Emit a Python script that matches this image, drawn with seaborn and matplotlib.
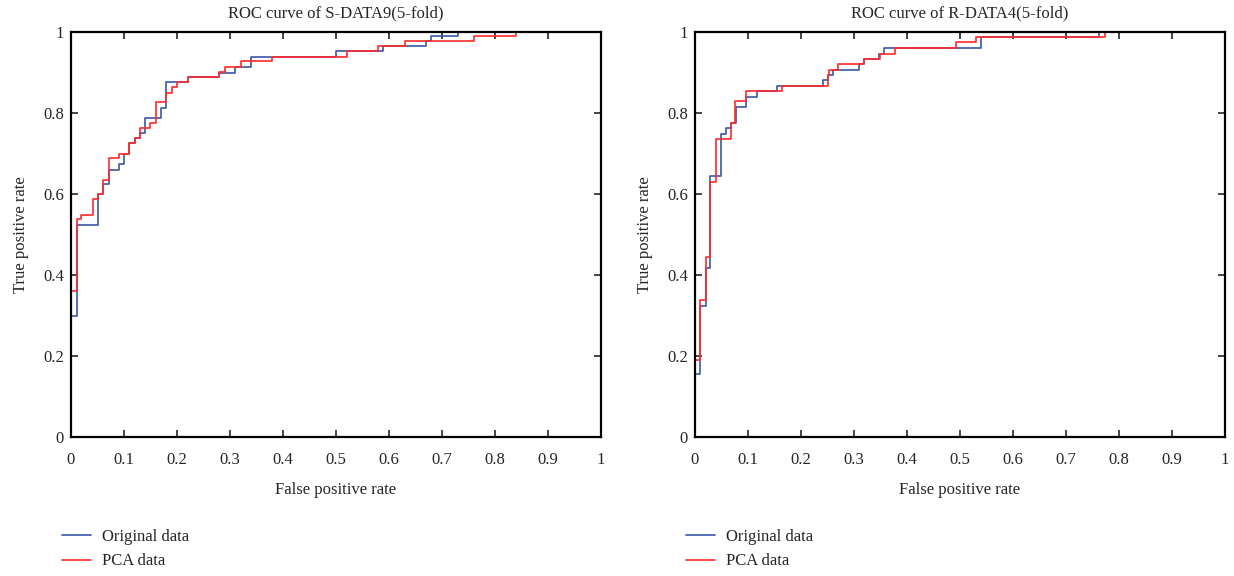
import numpy as np
import pandas as pd
import matplotlib
matplotlib.use('Agg')
import matplotlib.pyplot as plt
import seaborn as sns

# ROC step corners (fpr, tpr)
s_orig_fpr = [0, 0, 0.011, 0.051, 0.061, 0.071, 0.090, 0.100, 0.110, 0.120, 0.130, 0.140,
              0.170, 0.180, 0.220, 0.280, 0.310, 0.340, 0.500, 0.589, 0.670, 0.680, 0.730, 1]
s_orig_tpr = [0, 0.30, 0.525, 0.60, 0.626, 0.661, 0.675, 0.70, 0.727, 0.739, 0.752, 0.788,
              0.813, 0.878, 0.889, 0.90, 0.915, 0.94, 0.953, 0.965, 0.978, 0.99, 1.0, 1]
s_pca_fpr = [0, 0, 0.011, 0.019, 0.041, 0.051, 0.061, 0.071, 0.090, 0.110, 0.120, 0.130, 0.149,
             0.160, 0.180, 0.190, 0.200, 0.220, 0.280, 0.291, 0.320, 0.380, 0.520, 0.580,
             0.630, 0.760, 0.840, 1]
s_pca_tpr = [0, 0.36, 0.538, 0.549, 0.587, 0.60, 0.636, 0.689, 0.70, 0.727, 0.739, 0.763, 0.775,
             0.827, 0.851, 0.865, 0.878, 0.889, 0.901, 0.914, 0.928, 0.94, 0.953, 0.965,
             0.978, 0.99, 1.0, 1]

r_orig_fpr = [0, 0, 0.010, 0.020, 0.029, 0.049, 0.058, 0.068, 0.078, 0.097, 0.117, 0.155,
              0.241, 0.251, 0.260, 0.309, 0.319, 0.348, 0.357, 0.540, 0.763, 1]
r_orig_tpr = [0, 0.155, 0.324, 0.417, 0.644, 0.749, 0.763, 0.776, 0.816, 0.841, 0.855, 0.868,
              0.881, 0.895, 0.908, 0.921, 0.935, 0.947, 0.961, 0.988, 1.0, 1]
r_pca_fpr = [0, 0, 0.010, 0.020, 0.028, 0.040, 0.068, 0.076, 0.097, 0.165, 0.251, 0.253,
             0.270, 0.319, 0.350, 0.377, 0.493, 0.530, 0.773, 1]
r_pca_tpr = [0, 0.19, 0.338, 0.445, 0.629, 0.737, 0.776, 0.829, 0.855, 0.868, 0.895, 0.908,
             0.921, 0.935, 0.947, 0.961, 0.975, 0.988, 1.0, 1]

titles = ['ROC curve of S-DATA9(5-fold)', 'ROC curve of R-DATA4(5-fold)']
series_names = ['Original data', 'PCA data']
colors = ['#3a56a8', '#ff2a2a']

sns.set_style('ticks')
plt.rcParams['font.family'] = ['Liberation Serif', 'DejaVu Serif']

fig = plt.figure(figsize=(12.34, 5.76), dpi=100)
ax1 = fig.add_axes([0.0575, 0.241, 0.4295, 0.703])
ax2 = fig.add_axes([0.5632, 0.241, 0.4295, 0.703])

panels = [
    (ax1, [(s_orig_fpr, s_orig_tpr), (s_pca_fpr, s_pca_tpr)]),
    (ax2, [(r_orig_fpr, r_orig_tpr), (r_pca_fpr, r_pca_tpr)]),
]

for i, (ax, curves) in enumerate(panels):
    for (fx, ty), name, c in zip(curves, series_names, colors):
        d = pd.DataFrame({'fpr': fx, 'tpr': ty})
        sns.lineplot(data=d, x='fpr', y='tpr', ax=ax, estimator=None, sort=False,
                     drawstyle='steps-post', color=c, linewidth=1.2, label=name)
    ax.set_xlim(0, 1)
    ax.set_ylim(0, 1)
    ax.set_xticks(np.arange(0, 1.01, 0.1))
    ax.set_yticks(np.arange(0, 1.01, 0.2))
    ax.set_xticklabels(['0'] + ['%.1f' % v for v in np.arange(0.1, 0.95, 0.1)] + ['1'])
    ax.set_yticklabels(['0', '0.2', '0.4', '0.6', '0.8', '1'])
    ax.tick_params(direction='in', top=True, right=True, length=5, width=1.2,
                   labelsize=12)
    ax.tick_params(axis='x', pad=11)
    ax.tick_params(axis='y', pad=5)
    for sp in ax.spines.values():
        sp.set_linewidth(1.6)
        sp.set_color('black')
    ax.set_title(titles[i], fontsize=12, pad=11)
    ax.set_xlabel('False positive rate', fontsize=12, labelpad=10)
    ax.set_ylabel('True positive rate', fontsize=12, labelpad=10)
    ax.legend(loc='upper left', bbox_to_anchor=(-0.045, -0.19), frameon=False,
              fontsize=12, handlelength=1.75, handletextpad=0.65, labelspacing=0.5)

fig.savefig('out.png', dpi=100)
